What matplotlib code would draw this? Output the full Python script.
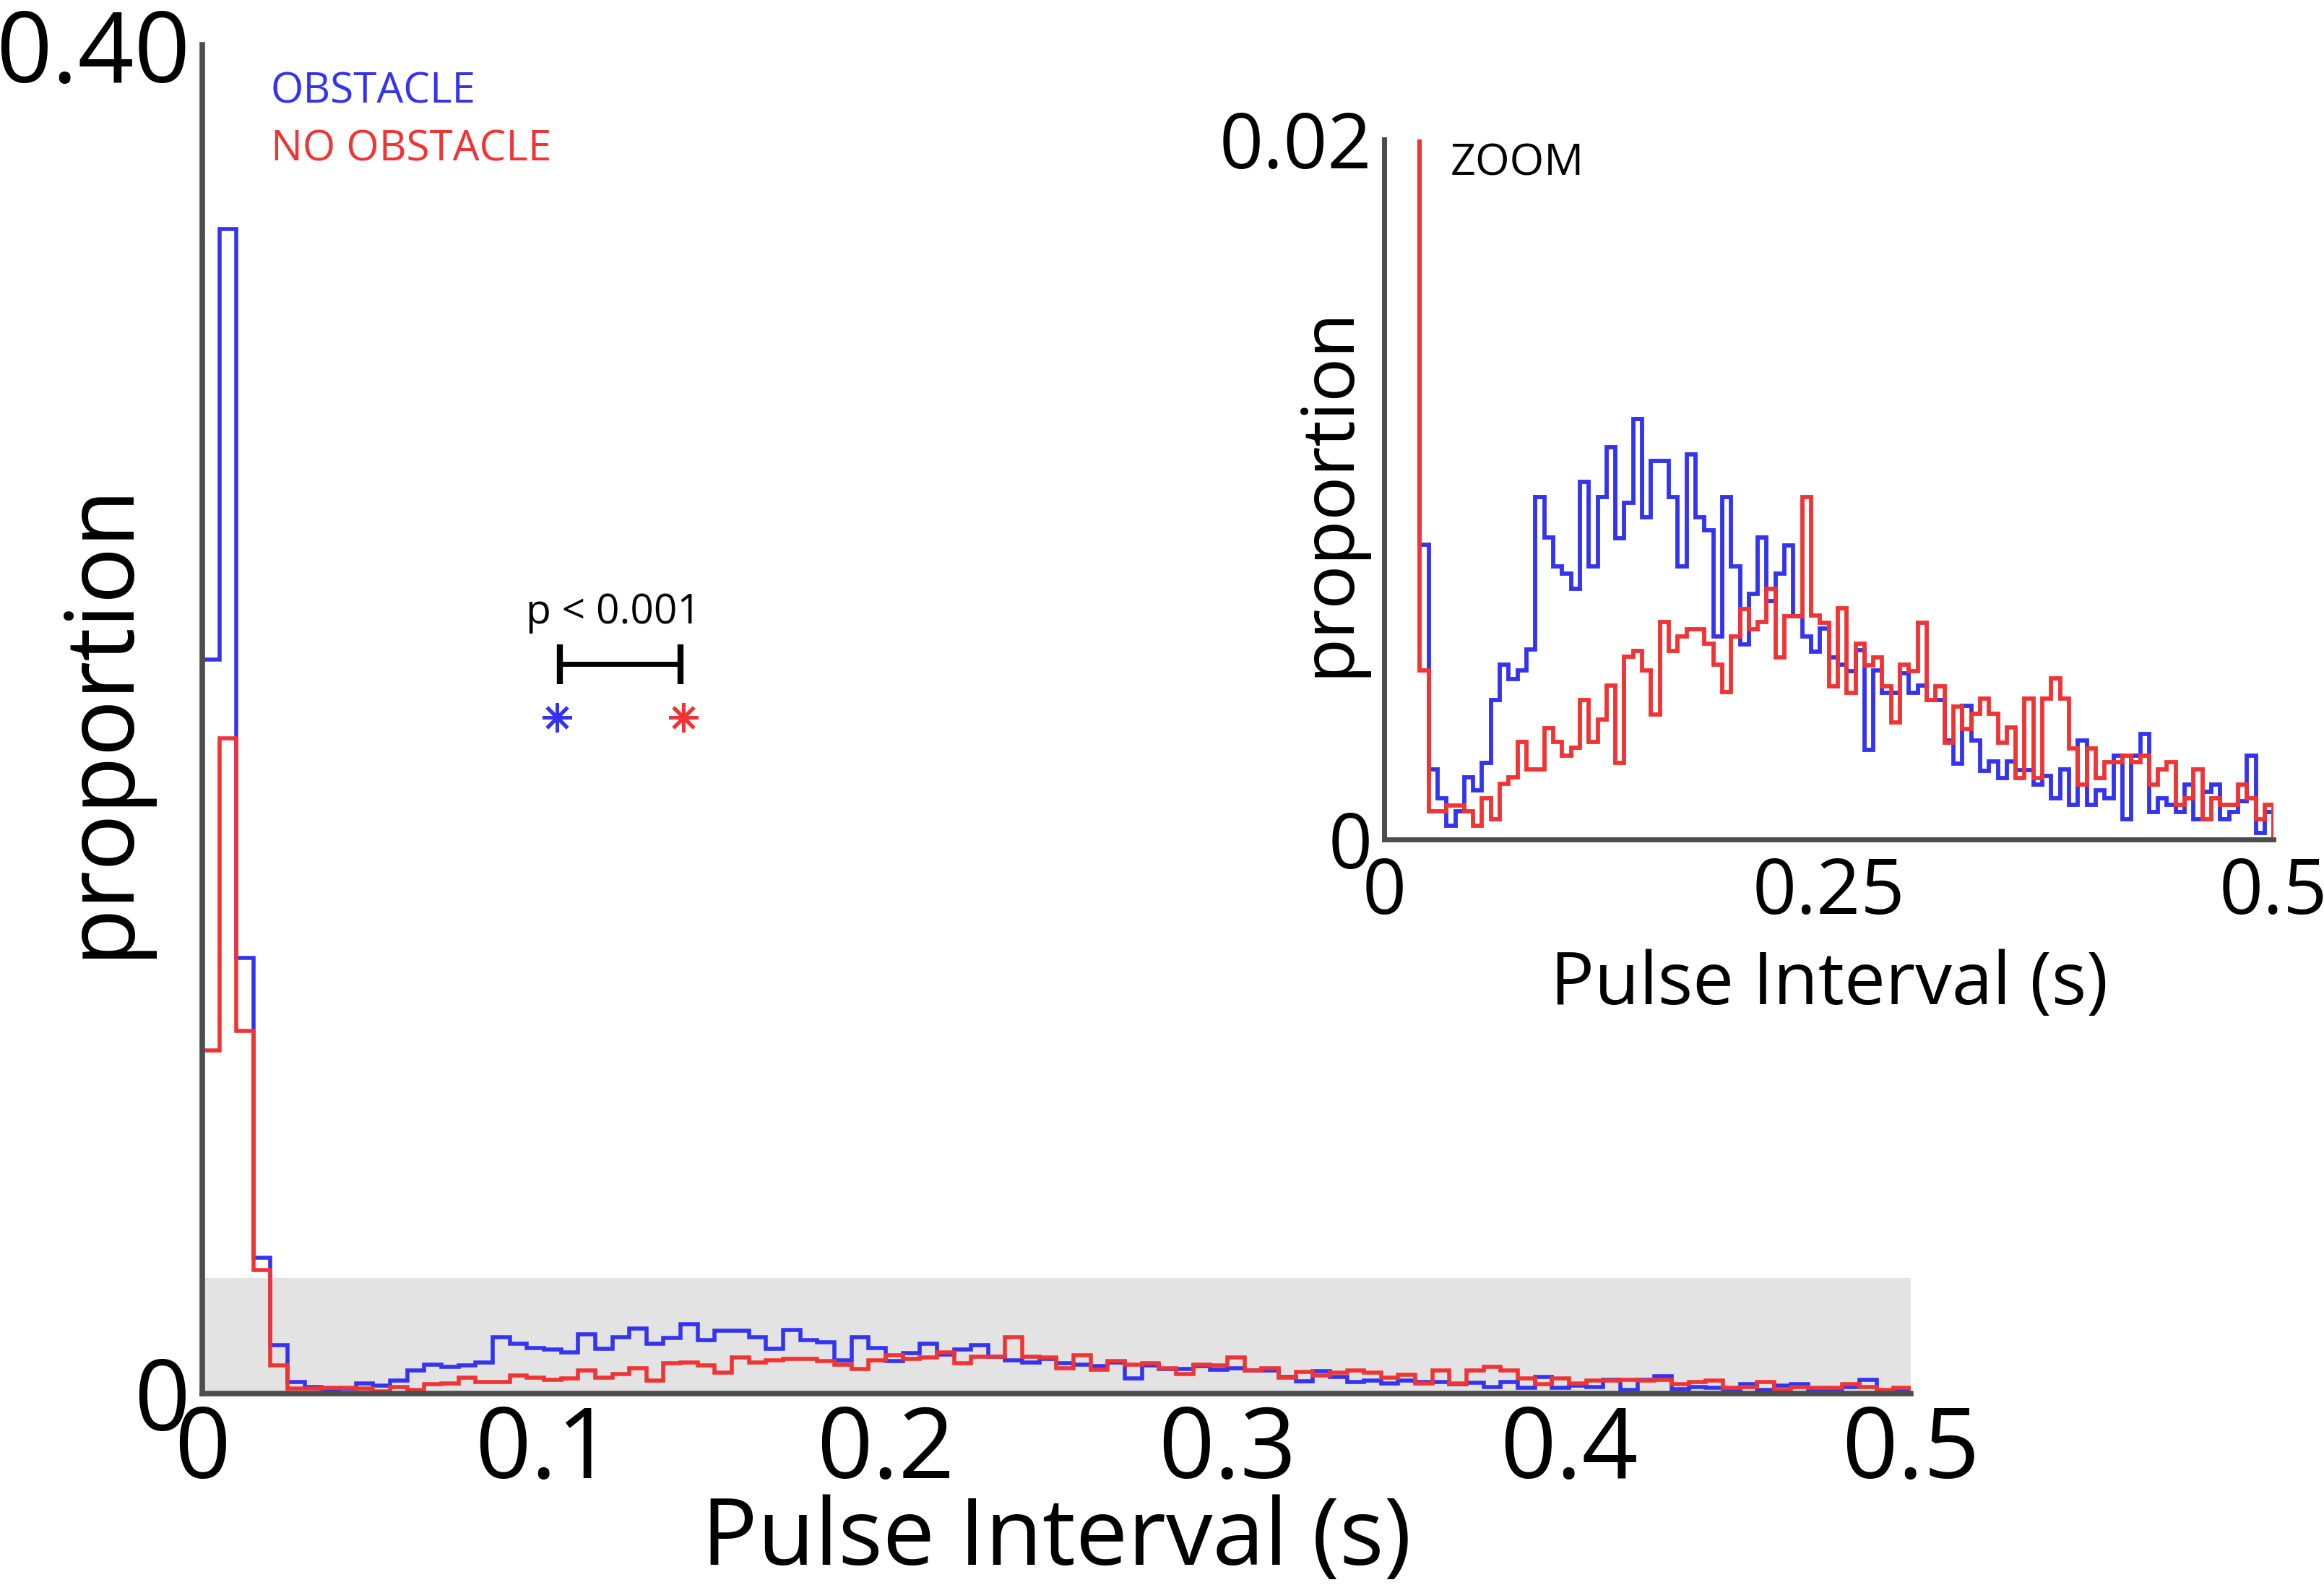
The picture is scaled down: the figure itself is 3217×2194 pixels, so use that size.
import numpy as np
import matplotlib
matplotlib.use("Agg")
import matplotlib.pyplot as plt
from matplotlib.patches import Rectangle

plt.rcParams['font.family'] = ['Open Sans', 'DejaVu Sans']

# ---- data: proportion per 5 ms bin, 0 .. 0.5 s ----
bin_lo = 0.0
bin_hi = 0.5
n_bins = 100

obstacle = [
    0.127, 0.2015, 0.0754, 0.0235,
    0.00841, 0.00201, 0.00118, 0.00040, 0.00081, 0.00178, 0.00141, 0.00219, 0.00399, 0.00500,
    0.00459, 0.00482, 0.00542, 0.00979, 0.00862, 0.00781, 0.00760, 0.00717, 0.01021, 0.00779,
    0.00979, 0.01120, 0.00860, 0.00961, 0.01200, 0.00920, 0.01081, 0.01081, 0.00979, 0.00779,
    0.01099, 0.00920, 0.00883, 0.00579, 0.00979, 0.00781, 0.00557, 0.00701, 0.00862, 0.00680,
    0.00760, 0.00839, 0.00638, 0.00579, 0.00537, 0.00602, 0.00519, 0.00500, 0.00480, 0.00540,
    0.00256, 0.00482,
    0.00419, 0.00419, 0.00474, 0.00418, 0.00440, 0.00398, 0.00398, 0.00283, 0.00216, 0.00382,
    0.00283, 0.00196, 0.00222, 0.00176, 0.00222, 0.00198, 0.00198, 0.00157, 0.00181, 0.00117,
    0.00200, 0.00098, 0.00282, 0.00098, 0.00141, 0.00117, 0.00240, 0.00058, 0.00240, 0.00301,
    0.00078, 0.00117, 0.00098, 0.00078, 0.00157, 0.00058, 0.00137, 0.00157, 0.00058, 0.00078,
    0.00109, 0.00240, 0.00019, 0.00078,
]

no_obstacle = [
    0.0594, 0.1134, 0.0628, 0.0214,
    0.00482, 0.00081, 0.00081, 0.00097, 0.00097, 0.00081, 0.00040, 0.00118, 0.00058, 0.00159,
    0.00178, 0.00279, 0.00201, 0.00201, 0.00318, 0.00279, 0.00240, 0.00261, 0.00399, 0.00279,
    0.00342, 0.00440, 0.00219, 0.00521, 0.00539, 0.00482, 0.00357, 0.00622, 0.00539, 0.00579,
    0.00600, 0.00600, 0.00560, 0.00500, 0.00420, 0.00579, 0.00659, 0.00600, 0.00622, 0.00717,
    0.00519, 0.00638, 0.00638, 0.00979,
    0.00639, 0.00619, 0.00437, 0.00661, 0.00418, 0.00560, 0.00498, 0.00520, 0.00437, 0.00335,
    0.00500, 0.00481, 0.00620, 0.00398, 0.00437, 0.00277, 0.00380, 0.00316, 0.00358, 0.00402,
    0.00358, 0.00277, 0.00319, 0.00176, 0.00402, 0.00176, 0.00402, 0.00461, 0.00402, 0.00259,
    0.00157, 0.00259, 0.00176, 0.00220, 0.00220, 0.00240, 0.00220, 0.00240, 0.00157, 0.00200,
    0.00220, 0.00098, 0.00117, 0.00200, 0.00058, 0.00117, 0.00098, 0.00098, 0.00157, 0.00117,
    0.00058, 0.00098,
]

series_labels = ["OBSTACLE", "NO OBSTACLE"]
main_xticks = [0, 0.1, 0.2, 0.3, 0.4, 0.5]
main_xticklabels = ["0", "0.1", "0.2", "0.3", "0.4", "0.5"]
main_ytop = 0.2334
main_yticklabels = ["0", "0.40"]
zoom_ytop = 0.02
zoom_xticks = [0, 0.25, 0.5]
zoom_xticklabels = ["0", "0.25", "0.5"]
zoom_yticklabels = ["0", "0.02"]
# summary markers & significance
marker_x = [0.1038, 0.1408]
p_text = "p < 0.001"

BLUE = '#3434F0'
RED = '#F03434'
SPINE = '#4d4d4d'

edges = np.linspace(bin_lo, bin_hi, n_bins + 1)

fig = plt.figure(figsize=(32.17, 21.94), dpi=100)

# ---------------- main axes ----------------
ax = fig.add_axes([0.0870, 0.1208, 0.7352, 0.8509])
ax.add_patch(Rectangle((0, 0), bin_hi, zoom_ytop, facecolor='#e3e3e3',
                       edgecolor='none', zorder=0))
ax.stairs(obstacle, edges, baseline=0, color=BLUE, lw=4.0, zorder=2)
ax.stairs(no_obstacle, edges, baseline=0, color=RED, lw=4.0, zorder=3)
ax.set_xlim(0, 0.5)
ax.set_ylim(0, main_ytop)
ax.set_xticks(main_xticks)
ax.set_xticklabels(main_xticklabels)
ax.set_yticks([0, main_ytop])
ax.set_yticklabels(main_yticklabels)
ax.tick_params(length=0, labelsize=98, pad=10)
ax.tick_params(axis='y', pad=12)
for s in ['top', 'right']:
    ax.spines[s].set_visible(False)
for s in ['left', 'bottom']:
    ax.spines[s].set_color(SPINE)
    ax.spines[s].set_linewidth(5.5)
    ax.spines[s].set_zorder(5)
ax.set_xlabel("Pulse Interval (s)", fontsize=93)
ax.xaxis.set_label_coords(0.5, -0.109)
ax.xaxis.label.set_va('center')
ax.set_ylabel("proportion", fontsize=94)
ax.yaxis.set_label_coords(-0.059, 0.5)
ax.yaxis.label.set_va('center')

ax.text(0.0402, 0.957, series_labels[0], color=BLUE, fontsize=42,
        transform=ax.transAxes, va='baseline', ha='left')
ax.text(0.0402, 0.914, series_labels[1], color=RED, fontsize=42,
        transform=ax.transAxes, va='baseline', ha='left')

# significance bracket
yb = 0.1263
ax.plot([0.1047, 0.1400], [yb, yb], color='black', lw=5, solid_capstyle='butt', zorder=4)
for xb in (0.1047, 0.1400):
    ax.plot([xb, xb], [0.1228, 0.1296], color='black', lw=6, solid_capstyle='butt', zorder=4)
ax.text(0.1203, 0.1333, p_text, fontsize=41, ha='center', va='baseline')
ax.plot([marker_x[0]], [0.117], marker=(8, 2, 0), ms=29, mew=3.6, color=BLUE, ls='none')
ax.plot([marker_x[1]], [0.117], marker=(8, 2, 0), ms=29, mew=3.6, color=RED, ls='none')

# ---------------- inset ----------------
ins = fig.add_axes([0.5956, 0.4704, 0.3827, 0.4417])
ins.stairs(obstacle, edges, baseline=0, color=BLUE, lw=4.2, zorder=2)
ins.stairs(no_obstacle, edges, baseline=0, color=RED, lw=4.2, zorder=3)
ins.set_xlim(0, 0.5)
ins.set_ylim(0, zoom_ytop)
ins.set_xticks(zoom_xticks)
ins.set_xticklabels(zoom_xticklabels)
ins.set_yticks([0, zoom_ytop])
ins.set_yticklabels(zoom_yticklabels)
ins.tick_params(length=0, labelsize=77, pad=16)
ins.tick_params(axis='y', pad=12)
for s in ['top', 'right']:
    ins.spines[s].set_visible(False)
for s in ['left', 'bottom']:
    ins.spines[s].set_color(SPINE)
    ins.spines[s].set_linewidth(5.0)
    ins.spines[s].set_zorder(5)
ins.set_xlabel("Pulse Interval (s)", fontsize=73)
ins.xaxis.set_label_coords(0.5, -0.208)
ins.xaxis.label.set_va('center')
ins.set_ylabel("proportion", fontsize=73)
ins.yaxis.set_label_coords(-0.062, 0.497)
ins.yaxis.label.set_va('center')
ins.text(0.0747, 0.949, "ZOOM", fontsize=44, transform=ins.transAxes,
         va='baseline', ha='left')

fig.savefig("out.png", dpi=100)
